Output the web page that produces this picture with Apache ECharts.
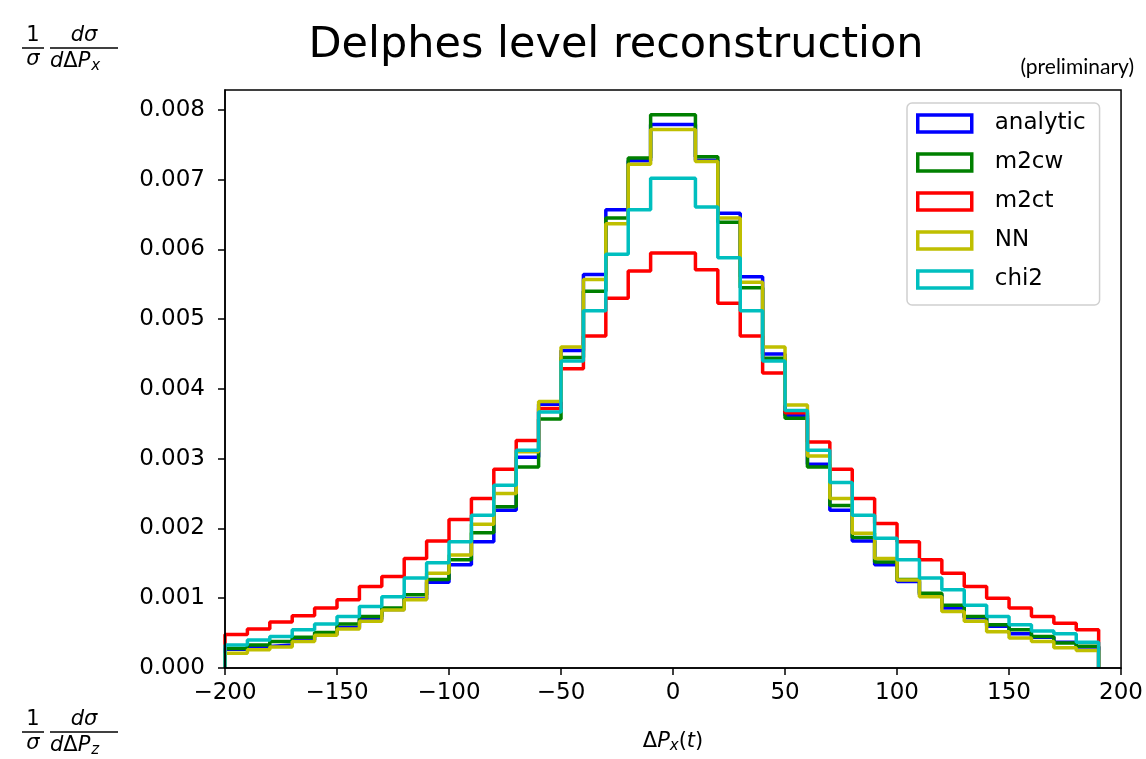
<!DOCTYPE html>
<html>
<head>
<meta charset="utf-8">
<script src="https://cdn.jsdelivr.net/npm/echarts@6/dist/echarts.min.js"></script>
<style>
  html, body { margin: 0; padding: 0; background: #fff; }
  #grafico { width: 1146px; height: 759px; }
</style>
</head>
<body>
<div id="grafico"></div>
<script>
// bordes izquierdos de los bins (ancho 10)
const bordes = [-200, -190, -180, -170, -160, -150, -140, -130, -120, -110,
                -100, -90, -80, -70, -60, -50, -40, -30, -20, -10,
                0, 10, 20, 30, 40, 50, 60, 70, 80, 90,
                100, 110, 120, 130, 140, 150, 160, 170, 180];
const bordeFinal = 190;

// valores
const analytic = [0.00027, 0.00031, 0.00033, 0.00040, 0.00048, 0.00058, 0.00070, 0.00084, 0.00099, 0.00123,
                  0.00148, 0.00181, 0.00226, 0.00302, 0.00378, 0.00455, 0.00564, 0.00657, 0.00727, 0.00779,
                  0.00779, 0.00728, 0.00652, 0.00561, 0.00450, 0.00362, 0.00292, 0.00226, 0.00182, 0.00148,
                  0.00124, 0.00105, 0.00086, 0.00072, 0.00060, 0.00049, 0.00044, 0.00037, 0.00030];
const m2cw = [0.00028, 0.00033, 0.00038, 0.00044, 0.00051, 0.00063, 0.00074, 0.00086, 0.00105, 0.00127,
              0.00155, 0.00194, 0.00231, 0.00288, 0.00357, 0.00445, 0.00540, 0.00645, 0.00731, 0.00793,
              0.00793, 0.00733, 0.00639, 0.00545, 0.00444, 0.00358, 0.00288, 0.00233, 0.00187, 0.00152,
              0.00127, 0.00107, 0.00090, 0.00074, 0.00062, 0.00055, 0.00045, 0.00036, 0.00031];
const m2ct = [0.00048, 0.00056, 0.00066, 0.00075, 0.00086, 0.00098, 0.00117, 0.00131, 0.00157, 0.00182,
              0.00213, 0.00243, 0.00285, 0.00326, 0.00372, 0.00429, 0.00476, 0.00530, 0.00569, 0.00595,
              0.00595, 0.00571, 0.00523, 0.00476, 0.00423, 0.00366, 0.00324, 0.00285, 0.00243, 0.00207,
              0.00181, 0.00155, 0.00136, 0.00117, 0.00100, 0.00086, 0.00074, 0.00064, 0.00055];
const nn = [0.00021, 0.00026, 0.00030, 0.00038, 0.00047, 0.00056, 0.00067, 0.00083, 0.00098, 0.00136,
            0.00162, 0.00206, 0.00250, 0.00310, 0.00382, 0.00460, 0.00557, 0.00637, 0.00722, 0.00772,
            0.00772, 0.00726, 0.00645, 0.00553, 0.00460, 0.00377, 0.00304, 0.00243, 0.00193, 0.00157,
            0.00126, 0.00102, 0.00081, 0.00067, 0.00052, 0.00043, 0.00038, 0.00029, 0.00025];
const chi2 = [0.00033, 0.00040, 0.00045, 0.00055, 0.00063, 0.00074, 0.00088, 0.00102, 0.00129, 0.00151,
              0.00181, 0.00219, 0.00262, 0.00312, 0.00367, 0.00440, 0.00512, 0.00593, 0.00657, 0.00702,
              0.00702, 0.00661, 0.00588, 0.00512, 0.00440, 0.00369, 0.00312, 0.00266, 0.00219, 0.00186,
              0.00155, 0.00129, 0.00112, 0.00090, 0.00074, 0.00062, 0.00053, 0.00049, 0.00037];

const nombres = ["analytic", "m2cw", "m2ct", "NN", "chi2"];
const colores = ["#0000ff", "#008000", "#ff0000", "#bfbf00", "#00bfbf"];
const series = [analytic, m2cw, m2ct, nn, chi2];

const fuente = "DejaVu Sans";

// histograma tipo "step": sube en el primer borde y baja a cero en el ultimo
function escalones(valores) {
  const puntos = [[bordes[0], 0]];
  valores.forEach((v, i) => puntos.push([bordes[i], v]));
  puntos.push([bordeFinal, valores[valores.length - 1]]);
  puntos.push([bordeFinal, 0]);
  return puntos;
}

// fraccion 1/sigma dsigma/dDeltaP
function fraccion(x, yLinea, sub) {
  const tam = 21;
  const base = { fontFamily: fuente, fontSize: tam, fill: "#000" };
  return [
    { type: "text", x: x + 11, y: yLinea - 2,
      style: Object.assign({}, base, { text: "1", align: "center", verticalAlign: "bottom" }) },
    { type: "line", shape: { x1: x, y1: yLinea, x2: x + 22, y2: yLinea }, style: { stroke: "#000", lineWidth: 1.5 } },
    { type: "text", x: x + 11, y: yLinea + 1,
      style: Object.assign({}, base, { text: "σ", fontStyle: "italic", align: "center", verticalAlign: "top" }) },
    { type: "text", x: x + 62, y: yLinea - 2,
      style: Object.assign({}, base, { text: "dσ", fontStyle: "italic", align: "center", verticalAlign: "bottom" }) },
    { type: "line", shape: { x1: x + 28, y1: yLinea, x2: x + 96, y2: yLinea }, style: { stroke: "#000", lineWidth: 1.5 } },
    { type: "text", x: x + 28, y: yLinea + 1,
      style: Object.assign({}, base, {
        text: "{i|d}{u|Δ}{i|P}{s|" + sub + "}", align: "left", verticalAlign: "top",
        rich: {
          i: { fontFamily: fuente, fontSize: tam, fontStyle: "italic" },
          u: { fontFamily: fuente, fontSize: tam },
          s: { fontFamily: fuente, fontSize: 15, fontStyle: "italic", padding: [10, 0, 0, 1] }
        }
      }) }
  ];
}

const opciones = {
  animation: false,
  backgroundColor: "#fff",
  grid: { left: 225, right: 24, top: 90, bottom: 89, show: true, borderColor: "#000", borderWidth: 1.5, z: 10 },
  xAxis: {
    type: "value", min: -200, max: 200, interval: 50, z: 10,
    name: "{u|Δ}{i|P}{s|x}{u|(}{i|t}{u|)}",
    nameLocation: "middle", nameGap: 61,
    nameTextStyle: {
      rich: {
        u: { fontFamily: fuente, fontSize: 21, color: "#000" },
        i: { fontFamily: fuente, fontSize: 21, fontStyle: "italic", color: "#000" },
        s: { fontFamily: fuente, fontSize: 15, fontStyle: "italic", color: "#000", padding: [10, 0, 0, 0] }
      }
    },
    axisLine: { show: true, onZero: false, lineStyle: { color: "#000", width: 1.5 } },
    axisTick: { show: true, inside: false, length: 7, lineStyle: { color: "#000", width: 1.5 } },
    axisLabel: { fontFamily: fuente, fontSize: 23, color: "#000", margin: 14,
                 formatter: v => (v < 0 ? "\u2212" + Math.abs(v) : String(v)) },
    splitLine: { show: false }
  },
  yAxis: {
    type: "value", min: 0, max: 0.0082857, interval: 0.001, z: 10,
    axisLine: { show: true, onZero: false, lineStyle: { color: "#000", width: 1.5 } },
    axisTick: { show: true, inside: false, length: 7, lineStyle: { color: "#000", width: 1.5 } },
    axisLabel: { fontFamily: fuente, fontSize: 23, color: "#000", margin: 20, showMaxLabel: false,
                 formatter: v => v.toFixed(3) },
    splitLine: { show: false }
  },
  legend: {
    orient: "vertical", left: 907, top: 103,
    data: nombres.map((n, i) => ({
      name: n,
      icon: "rect",
      itemStyle: { color: "rgba(255,255,255,0)", borderColor: colores[i], borderWidth: 3.5 }
    })),
    itemWidth: 54, itemHeight: 17, itemGap: 16,
    padding: [9, 14, 14, 9],
    backgroundColor: "#fff", borderColor: "#d0d0d0", borderWidth: 1.5, borderRadius: 5,
    textStyle: { fontFamily: fuente, fontSize: 23, color: "#000", padding: [0, 0, 0, 18] }
  },
  series: series.map((valores, i) => ({
    name: nombres[i],
    type: "line",
    step: "end",
    symbol: "none",
    data: escalones(valores),
    lineStyle: { color: colores[i], width: 3.5 },
    itemStyle: { color: colores[i] },
    z: 2 + i
  })),
  graphic: [
    { type: "text", x: 616, y: 46,
      style: { text: "Delphes level reconstruction", fontFamily: fuente, fontSize: 43, fill: "#000",
               align: "center", verticalAlign: "middle" } },
    { type: "text", x: 1134, y: 67,
      style: { text: "(preliminary)", fontFamily: "Lato", fontSize: 21, fill: "#000",
               align: "right", verticalAlign: "middle" } }
  ].concat(fraccion(22, 48, "x"), fraccion(22, 732, "z"))
};

const contenedor = document.getElementById("grafico");
const miGrafico = echarts.init(contenedor);
miGrafico.setOption(opciones);
</script>
</body>
</html>
